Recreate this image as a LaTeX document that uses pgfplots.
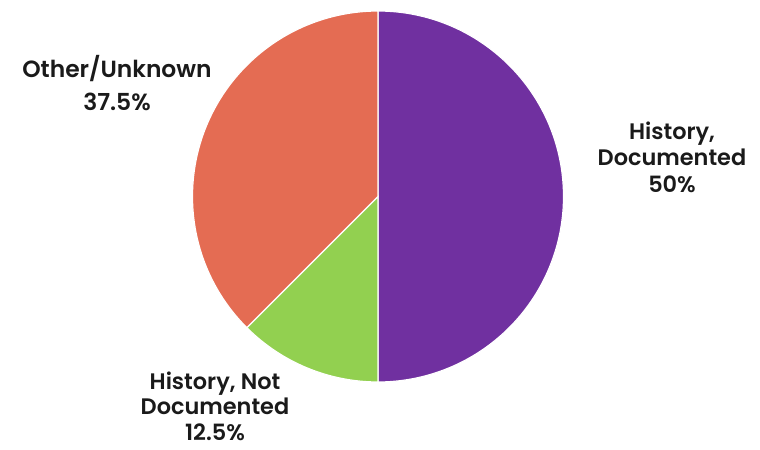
\documentclass[border=0pt]{standalone}
\usepackage{pgfplots}
\pgfplotsset{compat=1.18}
\usepackage{fontspec}
\setmainfont{Poppins}[BoldFont={* SemiBold}]
\definecolor{pur}{HTML}{7030A0}
\definecolor{grn}{HTML}{92D050}
\definecolor{org}{HTML}{E46C53}
\definecolor{txt}{HTML}{1A1A1A}
\begin{document}
\begin{tikzpicture}
\begin{axis}[
  scale only axis, width=760bp, height=450bp,
  xmin=0, xmax=760, ymin=0, ymax=450,
  hide axis, clip=false]
\xdef\cur{90}
\foreach \v/\c in {50/pur,12.5/grn,37.5/org}{
  \pgfmathsetmacro\e{\cur-3.6*\v}
  \edef\temp{\noexpand\fill[\c,draw=white,line width=1.2pt] (axis cs:378,253.5) -- ++(\cur:185.5bp) arc[start angle=\cur, end angle=\e, radius=185.5bp] -- cycle;}
  \temp
  \xdef\cur{\e}
}
\node[align=center, inner sep=0pt, font=\bfseries\fontsize{23.5}{33}\selectfont, text=txt] at (axis cs:117,367) {Other/Unknown\\37.5\%};
\node[align=center, inner sep=0pt, font=\bfseries\fontsize{22.5}{26.5}\selectfont, text=txt] at (axis cs:672,293) {History,\\Documented\\50\%};
\node[align=center, inner sep=0pt, font=\bfseries\fontsize{22.5}{25.5}\selectfont, text=txt] at (axis cs:215,44) {History, Not\\Documented\\12.5\%};
\end{axis}
\pgfresetboundingbox
\path (0,0) rectangle (760bp,450bp);
\end{tikzpicture}
\end{document}
